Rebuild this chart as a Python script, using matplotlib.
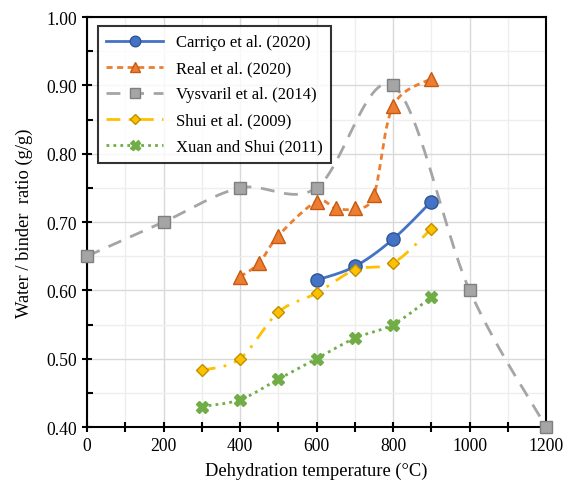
import numpy as np
import matplotlib.pyplot as plt
from matplotlib.ticker import MultipleLocator

plt.rcParams['font.family'] = ['Liberation Serif', 'DejaVu Serif']

# temperatures (°C) and water/binder ratios (g/g)
carrico_t = [600, 700, 800, 900]
carrico_w = [0.615, 0.635, 0.675, 0.73]

real_t = [400, 450, 500, 600, 650, 700, 750, 800, 900]
real_w = [0.62, 0.64, 0.68, 0.73, 0.72, 0.72, 0.74, 0.87, 0.91]

vysvaril_t = [0, 200, 400, 600, 800, 1000, 1200]
vysvaril_w = [0.65, 0.70, 0.75, 0.75, 0.90, 0.60, 0.40]

shui_t = [300, 400, 500, 600, 700, 800, 900]
shui_w = [0.483, 0.50, 0.568, 0.596, 0.63, 0.64, 0.69]

xuan_t = [300, 400, 500, 600, 700, 800, 900]
xuan_w = [0.43, 0.44, 0.47, 0.50, 0.53, 0.55, 0.59]


def smooth(x, y, n=30):
    # bezier smoothing between points (like spreadsheet "smoothed line")
    x = np.asarray(x, float)
    y = np.asarray(y, float)
    px, py = [], []
    for i in range(len(x) - 1):
        x0, y0 = (x[i - 1], y[i - 1]) if i > 0 else (x[i], y[i])
        x3, y3 = (x[i + 2], y[i + 2]) if i + 2 < len(x) else (x[i + 1], y[i + 1])
        c1x = x[i] + (x[i + 1] - x0) / 6
        c1y = y[i] + (y[i + 1] - y0) / 6
        c2x = x[i + 1] - (x3 - x[i]) / 6
        c2y = y[i + 1] - (y3 - y[i]) / 6
        s = np.linspace(0, 1, n)
        b0, b1, b2, b3 = (1 - s) ** 3, 3 * s * (1 - s) ** 2, 3 * s ** 2 * (1 - s), s ** 3
        px.extend(b0 * x[i] + b1 * c1x + b2 * c2x + b3 * x[i + 1])
        py.extend(b0 * y[i] + b1 * c1y + b2 * c2y + b3 * y[i + 1])
    return px, py


series = [
    (carrico_t, carrico_w, 'Carriço et al. (2020)', '#4472C4', '#2F5597', '-', 'o', 9.5),
    (real_t, real_w, 'Real et al. (2020)', '#ED7D31', '#C55A11', (0, (2.2, 1.6)), '^', 9.5),
    (vysvaril_t, vysvaril_w, 'Vysvaril et al. (2014)', '#A5A5A5', '#7F7F7F', (0, (5, 3.5)), 's', 8.5),
    (shui_t, shui_w, 'Shui et al. (2009)', '#FFC000', '#BF9000', (0, (5, 3, 1, 3)), 'D', 6.5),
    (xuan_t, xuan_w, 'Xuan and Shui (2011)', '#70AD47', '#70AD47', (0, (1, 1.5)), 'X', 9),
]

fig = plt.figure(figsize=(5.63, 4.89), dpi=100)
ax = fig.add_axes([0.1545, 0.1247, 0.8155, 0.8383])

for t, w, label, color, edge, ls, marker, ms in series:
    sx, sy = smooth(t, w)
    ax.plot(sx, sy, color=color, linestyle=ls, linewidth=2, zorder=3)
    ax.plot(t, w, linestyle='none', marker=marker, markersize=ms, clip_on=False,
            markerfacecolor=color, markeredgecolor=edge, markeredgewidth=1, zorder=4)
    # legend proxy
    ax.plot([], [], color=color, linestyle=ls, linewidth=2, marker=marker,
            markersize=ms * 0.8, markerfacecolor=color, markeredgecolor=edge, label=label)

ax.set_xlim(0, 1200)
ax.set_ylim(0.40, 1.00)
ax.xaxis.set_major_locator(MultipleLocator(200))
ax.xaxis.set_minor_locator(MultipleLocator(100))
ax.yaxis.set_major_locator(MultipleLocator(0.1))
ax.yaxis.set_minor_locator(MultipleLocator(0.05))
ax.yaxis.set_major_formatter(plt.FormatStrFormatter('%.2f'))

ax.grid(True, which='major', color='#D9D9D9', linewidth=1, zorder=0)
ax.grid(True, which='minor', color='#EEEEEE', linewidth=1, zorder=0)
ax.set_axisbelow(True)
ax.tick_params(which='both', direction='inout', length=7, width=1.5, labelsize=12.7)
ax.tick_params(axis='x', which='minor', length=7)
ax.tick_params(axis='y', which='minor', direction='in', length=4)
for sp in ax.spines.values():
    sp.set_linewidth(1.5)
    sp.set_color('black')

ax.set_xlabel('Dehydration temperature (°C)', fontsize=13.3, labelpad=6)
ax.set_ylabel('Water / binder  ratio (g/g)', fontsize=13.3, labelpad=10)

leg = ax.legend(loc='upper left', bbox_to_anchor=(0.024, 0.978), borderaxespad=0,
                fontsize=12, frameon=True, fancybox=False, edgecolor='black',
                handlelength=3.4, labelspacing=0.6, borderpad=0.5)
leg.get_frame().set_linewidth(1.5)

fig.savefig('out.png', dpi=100)
